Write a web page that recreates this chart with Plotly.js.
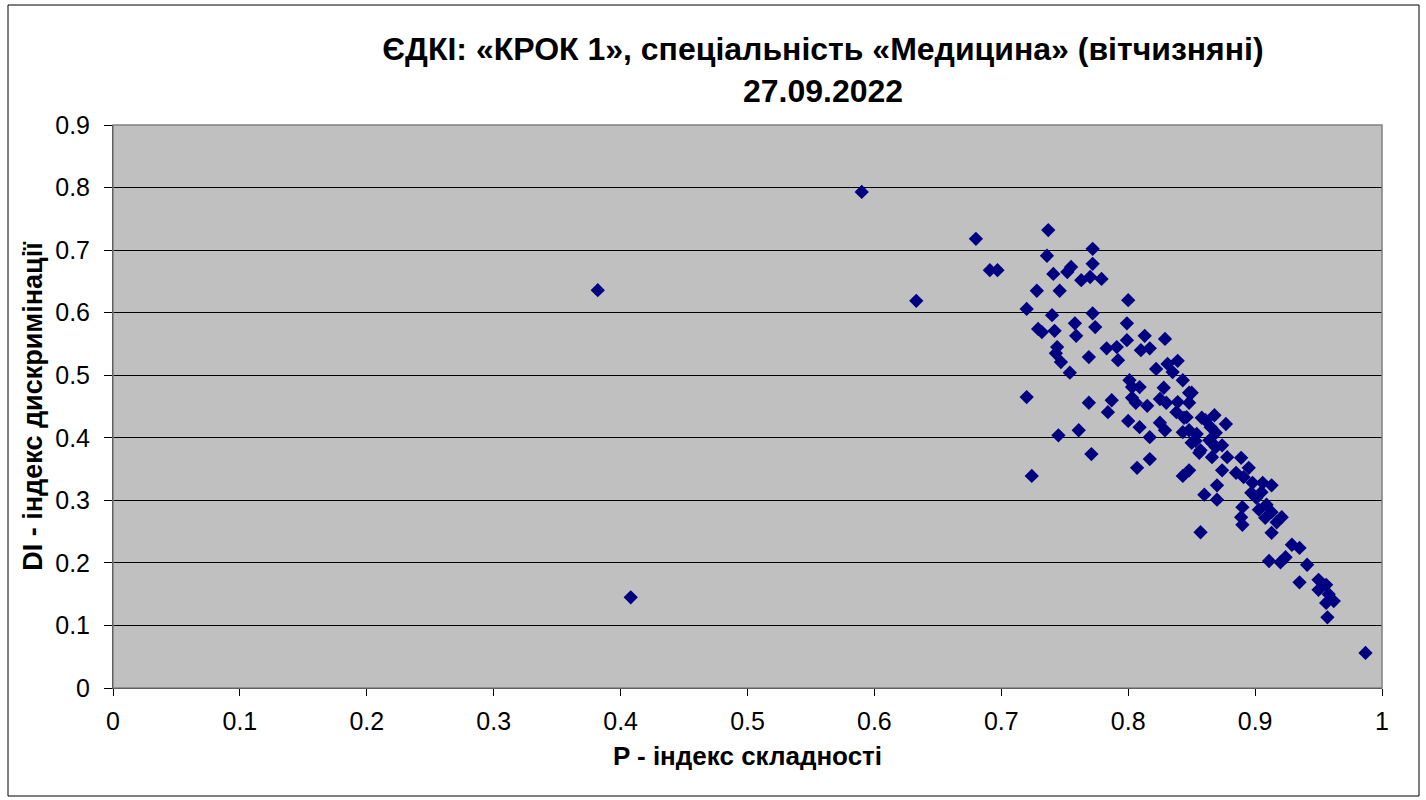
<!DOCTYPE html>
<html>
<head>
<meta charset="utf-8">
<script src="https://cdn.plot.ly/plotly-3.0.1.min.js"></script>
<style>
html,body{margin:0;padding:0;background:#fff;}
#chart{width:1426px;height:800px;}
</style>
</head>
<body>
<div id="chart"></div>
<script>
// P - difficulty index
const pIndex = [
0.382,0.408,0.590,0.633,0.680,0.691,0.697,0.720,0.720,0.724,
0.728,0.729,0.732,0.737,0.736,0.740,0.742,0.741,0.746,0.744,
0.743,0.747,0.745,0.752,0.755,0.754,0.758,0.759,0.761,0.763,
0.769,0.769,0.772,0.772,0.770,0.772,0.771,0.774,0.779,0.783,
0.784,0.787,0.791,0.792,0.799,0.799,0.800,0.800,0.801,0.803,
0.803,0.807,0.809,0.809,0.810,0.813,0.817,0.815,0.817,0.817,
0.822,0.825,0.825,0.828,0.829,0.829,0.830,0.831,0.835,0.839,
0.838,0.839,0.843,0.843,0.843,0.846,0.848,0.850,0.848,0.848,
0.850,0.854,0.856,0.857,0.858,0.860,0.866,0.865,0.868,0.869,
0.866,0.870,0.870,0.874,0.874,0.877,0.878,0.885,0.889,0.891,
0.895,0.898,0.906,0.913,0.897,0.901,0.905,0.909,0.903,0.890,
0.889,0.890,0.921,0.917,0.913,0.929,0.935,0.924,0.920,0.911,
0.941,0.935,0.950,0.956,0.950,0.958,0.956,0.962,0.957,0.987,
0.853,0.857,0.864,0.869,0.844,0.861,0.806,0.848,0.908,0.913
];
// DI - discrimination index
const diIndex = [
0.636,0.145,0.793,0.619,0.718,0.668,0.668,0.606,0.465,0.339,
0.635,0.574,0.569,0.732,0.691,0.596,0.571,0.662,0.635,0.545,
0.535,0.521,0.404,0.665,0.673,0.504,0.583,0.563,0.412,0.652,
0.529,0.456,0.702,0.678,0.657,0.599,0.374,0.577,0.654,0.543,
0.441,0.460,0.545,0.524,0.556,0.583,0.620,0.427,0.492,0.481,
0.464,0.352,0.481,0.417,0.540,0.563,0.543,0.451,0.366,0.401,
0.510,0.462,0.424,0.480,0.412,0.558,0.456,0.518,0.505,0.523,
0.441,0.457,0.492,0.409,0.339,0.433,0.472,0.472,0.412,0.348,
0.392,0.406,0.376,0.249,0.432,0.309,0.392,0.417,0.436,0.408,
0.369,0.324,0.301,0.388,0.348,0.422,0.369,0.344,0.368,0.337,
0.352,0.328,0.328,0.324,0.312,0.304,0.313,0.293,0.285,0.289,
0.273,0.261,0.273,0.265,0.248,0.229,0.224,0.209,0.201,0.203,
0.197,0.169,0.173,0.165,0.157,0.150,0.136,0.139,0.113,0.056,
0.395,0.380,0.396,0.385,0.432,0.428,0.456,0.456,0.272,0.281
];
const xTicks = [0,0.1,0.2,0.3,0.4,0.5,0.6,0.7,0.8,0.9,1];
const xTickLabels = ['0','0.1','0.2','0.3','0.4','0.5','0.6','0.7','0.8','0.9','1'];
const yTicks = [0,0.1,0.2,0.3,0.4,0.5,0.6,0.7,0.8,0.9];
const yTickLabels = ['0','0.1','0.2','0.3','0.4','0.5','0.6','0.7','0.8','0.9'];
const titleLines = ['ЄДКІ: «КРОК 1», спеціальність «Медицина» (вітчизняні)', '27.09.2022'];
const xTitle = 'P - індекс складності';
const yTitle = 'DI - індекс дискримінації';

const FONT = '"Liberation Sans", Arial, sans-serif';

const trace = {
  type: 'scatter',
  mode: 'markers',
  x: pIndex,
  y: diIndex,
  marker: {symbol: 'diamond', size: 11, color: '#000080', line: {width: 0}},
  hoverinfo: 'x+y',
  showlegend: false
};

const layout = {
  width: 1426,
  height: 800,
  paper_bgcolor: '#ffffff',
  plot_bgcolor: '#c0c0c0',
  margin: {l: 113, r: 44, t: 125, b: 112},
  font: {family: FONT, color: '#000000', size: 25},
  title: {
    text: titleLines.map(s => '<b>' + s + '</b>').join('<br>'),
    font: {family: FONT, size: 32, color: '#000'},
    x: (823-113)/1269, xref: 'paper', xanchor: 'center',
    y: 1 - 60/800, yref: 'container', yanchor: 'top'
  },
  xaxis: {
    range: [0, 1],
    tickmode: 'array',
    tickvals: xTicks,
    ticktext: xTickLabels,
    ticks: 'outside', ticklen: 7, tickcolor: '#000', tickwidth: 1,
    ticklabelstandoff: 4,
    showgrid: false, zeroline: false,
    showline: true, linecolor: '#000', linewidth: 1, mirror: false,
    tickfont: {family: FONT, size: 25, color: '#000'},
    title: {text: '<b>' + xTitle + '</b>', font: {family: FONT, size: 26, color: '#000'}, standoff: 12},
    fixedrange: true
  },
  yaxis: {
    range: [0, 0.9],
    tickmode: 'array',
    tickvals: yTicks,
    ticktext: yTickLabels,
    ticks: 'outside', ticklen: 8, tickcolor: '#000', tickwidth: 1,
    ticklabelstandoff: 9,
    showgrid: true, gridcolor: '#000', gridwidth: 1,
    zeroline: false,
    showline: true, linecolor: '#000', linewidth: 1,
    tickfont: {family: FONT, size: 25, color: '#000'},
    title: {text: '<b>' + yTitle + '</b>', font: {family: FONT, size: 27, color: '#000'}, standoff: 4},
    fixedrange: true
  },
  shapes: [
    {type: 'rect', xref: 'paper', yref: 'paper', x0: 0, x1: 1, y0: 0, y1: 1,
     line: {color: '#808080', width: 1.5}, fillcolor: 'rgba(0,0,0,0)', layer: 'above'},
    {type: 'rect', xref: 'paper', yref: 'paper',
     x0: (8-113)/1269, x1: (1419-113)/1269, y0: (688-796)/563, y1: (688-5)/563,
     line: {color: '#000', width: 1}, fillcolor: 'rgba(0,0,0,0)', layer: 'below'}
  ]
};

Plotly.newPlot('chart', [trace], layout, {displayModeBar: false, staticPlot: true});
</script>
</body>
</html>
